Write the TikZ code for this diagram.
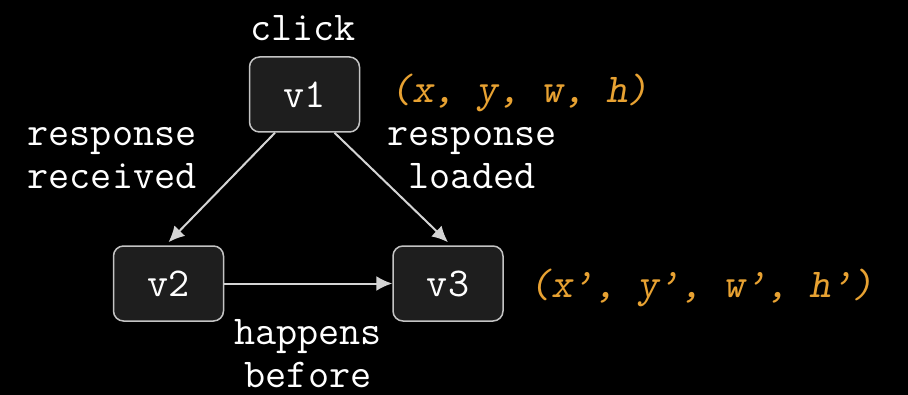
\documentclass[tikz,border=0pt]{standalone}
\usepackage{fontspec}
\usetikzlibrary{arrows.meta}
\definecolor{boxfill}{HTML}{1E1E1E}
\definecolor{boxline}{HTML}{C4C4C4}
\definecolor{edge}{HTML}{D4D4D4}
\definecolor{attr}{HTML}{E8A232}
\begin{document}
\begin{tikzpicture}[x=0.5pt,y=-0.5pt,
		every node/.style={text=white, font=\ttfamily\fontsize{20.5}{21.5}\selectfont, align=center},
		vbox/.style={draw=boxline, fill=boxfill, line width=0.75pt, rounded corners=5pt, minimum width=55pt, minimum height=37.5pt, inner sep=0pt},
		attrs/.style={text=attr, font=\ttfamily\slshape\fontsize{20.5}{21.5}\selectfont},
		edgeline/.style={draw=edge, line width=1pt, -{Latex[length=8pt,width=7.5pt]}}]
	\fill[black] (0,0) rectangle (908,395);
	\useasboundingbox (0,0) rectangle (908,395);

	\node[vbox] (V1) at (304.5,94.5) {v1};
	\node[vbox] (V2) at (168.5,283.5) {v2};
	\node[vbox] (V3) at (448,283.5) {v3};

	\node (C) at (303,28) {click};
	\node[attrs] (A1) at (520,93) {(x, y, w, h)};
	\node[attrs] (A3) at (702,288) {(x’, y’, w’, h’)};
	\node (R1) at (112,158) {response\\received};
	\node (R2) at (472,158) {response\\loaded};
	\node[inner sep=0pt] (H) at (308,354) {happens\\before};

	\draw[edgeline] ([xshift=-14.75pt]V1.south) -- ([yshift=1.5pt]V2.north);
	\draw[edgeline] ([xshift=15pt]V1.south) -- ([yshift=1.5pt]V3.north);
	\draw[edgeline] (V2.east) -- (V3.west);
\end{tikzpicture}
\end{document}
